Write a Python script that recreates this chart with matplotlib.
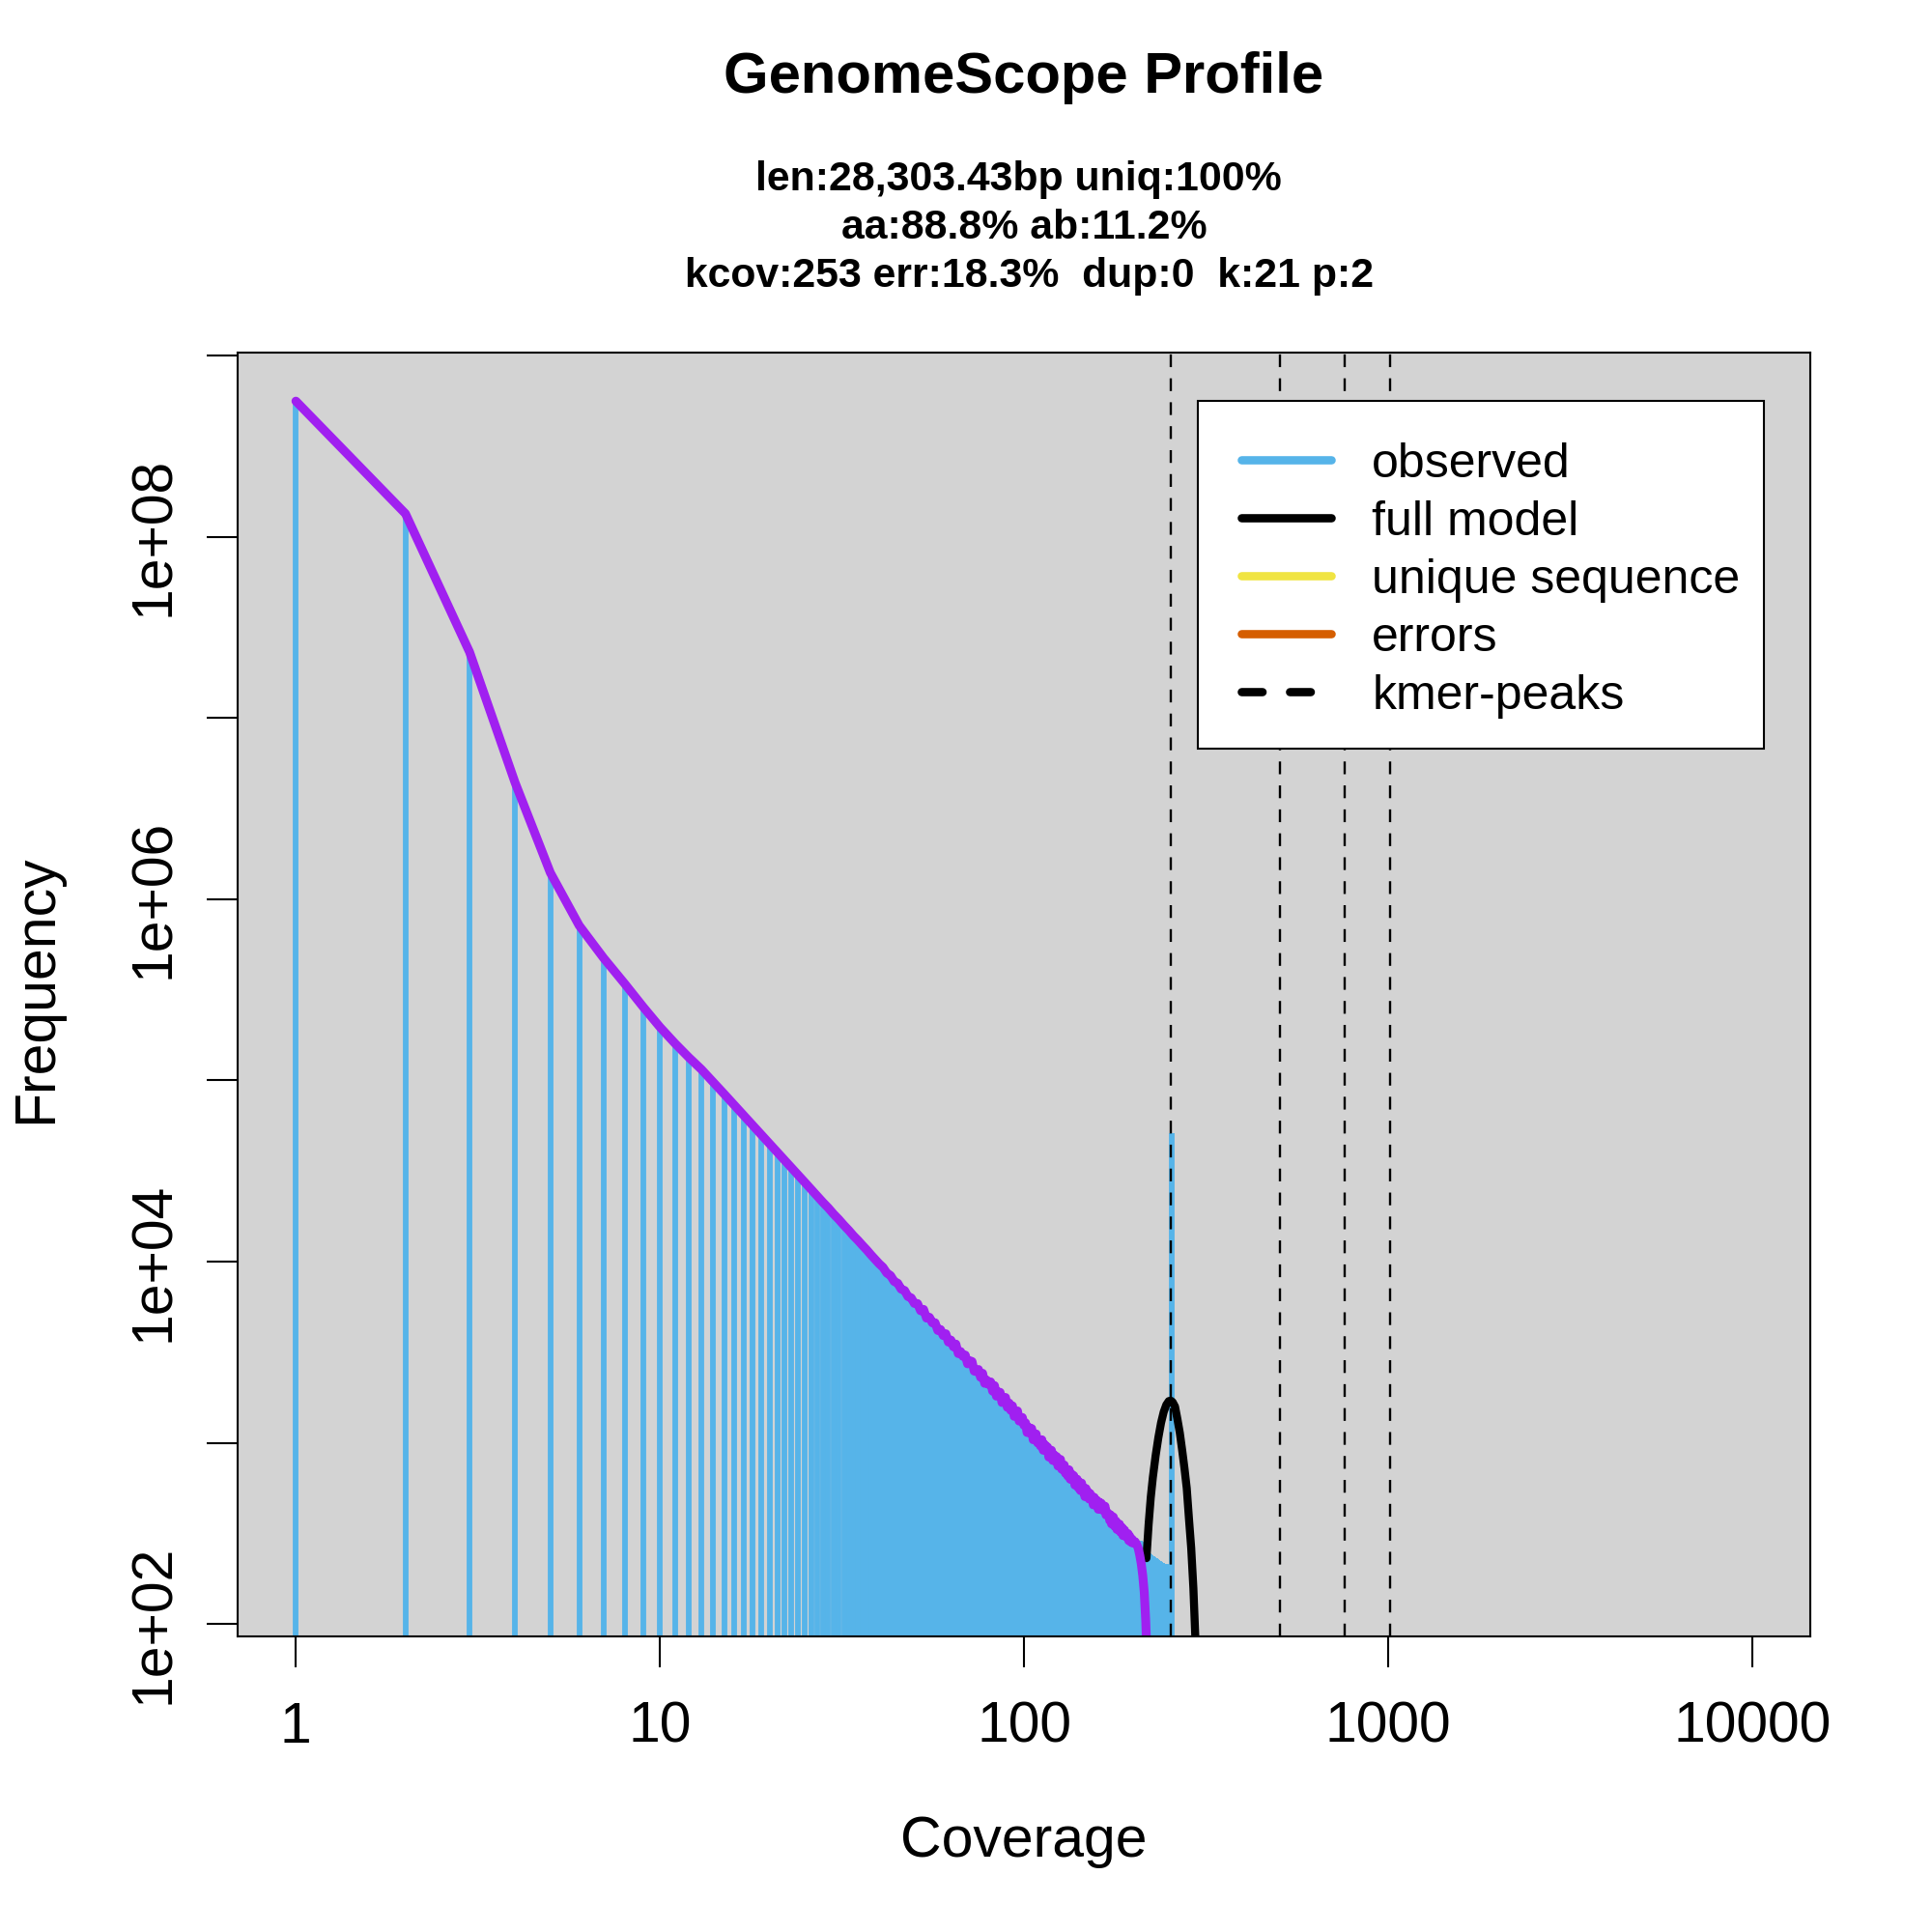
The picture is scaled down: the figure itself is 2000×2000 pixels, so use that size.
import matplotlib
matplotlib.use('Agg')
import matplotlib.pyplot as plt
from matplotlib.lines import Line2D
from matplotlib.patches import Rectangle
from matplotlib.ticker import NullLocator

plt.rcParams['font.family'] = ['Liberation Sans', 'DejaVu Sans']

# k-mer coverage histogram (coverage 1..249, plus the capped bin at 255)
cov = list(range(1, 250)) + [255]
observed = [
    560000000, 134000000, 23100000, 4400000, 1400000, 716000, 474000, 342000, 254000, 197000,
    160000, 134000, 115000, 98000, 84300, 73100, 64000, 56400, 50100, 44800,
    40200, 36300, 32900, 30000, 27400, 25100, 23100, 21300, 19800, 18300,
    17100, 15900, 14900, 13900, 13100, 12300, 11600, 10900, 10300, 9740,
    9300, 8650, 8380, 7780, 7600, 7050, 6930, 6420, 6310, 5880,
    5870, 5360, 5450, 4880, 4930, 4600, 4600, 4170, 4220, 3910,
    4000, 3600, 3690, 3390, 3510, 3110, 3190, 3000, 3050, 2730,
    2840, 2810, 2490, 2470, 2540, 2300, 2420, 2130, 2220, 2100,
    2170, 1930, 2070, 1810, 1910, 1900, 1670, 1680, 1780, 1570,
    1660, 1510, 1600, 1400, 1480, 1500, 1320, 1320, 1380, 1250,
    1290, 1140, 1220, 1130, 1200, 1040, 1110, 1120, 1000, 1030,
    960, 1040, 910, 980, 905, 950, 835, 900, 910, 800,
    860, 790, 840, 745, 785, 810, 715, 715, 755, 680,
    715, 655, 710, 630, 675, 625, 660, 585, 620, 630,
    565, 605, 545, 600, 545, 565, 505, 560, 505, 535,
    490, 525, 485, 505, 455, 500, 455, 475, 480, 430,
    470, 445, 465, 426, 450, 428, 447, 400, 416, 400,
    405, 373, 400, 357, 380, 390, 348, 352, 370, 333,
    357, 333, 356, 322, 338, 341, 308, 318, 330, 305,
    316, 301, 316, 289, 307, 295, 283, 295, 280, 286,
    290, 288, 287, 289, 286, 288, 285, 287, 284, 286,
    283, 285, 280, 282, 276, 270, 262, 256, 250, 246,
    244, 241, 240, 238, 236, 235, 233, 232, 230, 229,
    228, 226, 225, 223, 222, 221, 219, 218, 216, 216,
    215, 214, 214, 213, 214, 212, 213, 211, 210,
    51000,
]

# purple curve: follows observed up to 200x, then falls away
purple_tail_cov = [202, 204, 206, 208, 210, 212, 214, 216, 217]
purple_tail = [285, 275, 262, 240, 215, 185, 150, 105, 80]

# full model around the main peak
model_cov = [217, 220, 223, 226, 230, 234, 238, 242, 246, 250, 253, 256,
             260, 264, 268, 272, 276, 280, 284, 288, 292, 296]
model_vals = [231, 355, 500, 646, 851, 1070, 1290, 1480, 1620, 1700, 1710, 1680,
              1585, 1350, 1135, 912, 724, 562, 380, 263, 158, 79]

peaks = [253, 506, 759, 1012]

x_ticks = [1, 10, 100, 1000, 10000]
x_labels = ['1', '10', '100', '1000', '10000']
y_ticks = [1e2, 1e3, 1e4, 1e5, 1e6, 1e7, 1e8, 1e9]
y_labels = ['1e+02', '', '1e+04', '', '1e+06', '', '1e+08', '']

title = 'GenomeScope Profile'
subtitle = ['len:28,303.43bp uniq:100% ',
            'aa:88.8% ab:11.2%',
            ' kcov:253 err:18.3%  dup:0  k:21 p:2']

fig = plt.figure(figsize=(10, 10), dpi=200)
ax = fig.add_axes([0.123, 0.153, 0.814, 0.6645])
ax.set_facecolor('#D3D3D3')
ax.set_xscale('log')
ax.set_yscale('log')
ax.set_xlim(10 ** -0.16, 10 ** 4.16)
ax.set_ylim(10 ** 1.932, 10 ** 9.016)

ax.vlines(cov, 1, observed, color='#56B4E9', lw=2.1, zorder=2)
ax.plot(model_cov, model_vals, color='black', lw=3.0,
        solid_capstyle='round', solid_joinstyle='round', zorder=3)
ax.plot(cov[:200] + purple_tail_cov, observed[:200] + purple_tail,
        color='#A020F0', lw=3.3, solid_capstyle='round', solid_joinstyle='round', zorder=4)
for p in peaks:
    ax.axvline(p, color='black', lw=0.85, linestyle=(0, (5.6, 4.9)), zorder=5)

ax.set_xticks(x_ticks)
ax.set_xticklabels(x_labels)
ax.set_yticks(y_ticks)
ax.set_yticklabels(y_labels, rotation=90, va='center')
ax.xaxis.set_minor_locator(NullLocator())
ax.yaxis.set_minor_locator(NullLocator())
ax.tick_params(axis='both', direction='out', length=11.5, width=0.75,
               labelsize=21.2, colors='black')
ax.tick_params(axis='x', pad=12.6)
ax.tick_params(axis='y', pad=9.9)
for s in ax.spines.values():
    s.set_linewidth(0.75)
    s.set_zorder(6)

fig.text(0.53, 0.952, title, ha='center', va='baseline', fontsize=21.5, fontweight='bold')
for i, line in enumerate(subtitle):
    fig.text(0.53, 0.9015 - i * 0.025, line, ha='center', va='baseline',
             fontsize=15.4, fontweight='bold')
fig.text(0.53, 0.039, 'Coverage', ha='center', va='baseline', fontsize=21.2)
fig.text(0.02665, 0.488, 'Frequency', rotation=90, rotation_mode='anchor',
         ha='center', va='baseline', fontsize=21.2)

# legend box drawn on its own, entries placed inside it
ax.add_patch(Rectangle((0.6106, 0.6915), 0.3599, 0.2709, transform=ax.transAxes,
                       facecolor='white', edgecolor='black', lw=0.75, zorder=6.5))
handles = [
    Line2D([], [], color='#56B4E9', lw=3.1, solid_capstyle='round'),
    Line2D([], [], color='black', lw=3.1, solid_capstyle='round'),
    Line2D([], [], color='#F0E442', lw=3.1, solid_capstyle='round'),
    Line2D([], [], color='#D55E00', lw=3.1, solid_capstyle='round'),
    Line2D([], [], color='black', lw=3.1, linestyle=(0, (2.5, 3.3)), dash_capstyle='round'),
]
labels = ['observed', 'full model', 'unique sequence', 'errors', 'kmer-peaks']
leg = ax.legend(handles, labels, loc='upper left', bbox_to_anchor=(0.6153, 0.9586),
                borderaxespad=0, fontsize=18, handlelength=1.85, handletextpad=0.85,
                borderpad=0.75, labelspacing=0.28, frameon=False)
leg.set_zorder(7)

fig.savefig('out.png', dpi=200, facecolor='white')
